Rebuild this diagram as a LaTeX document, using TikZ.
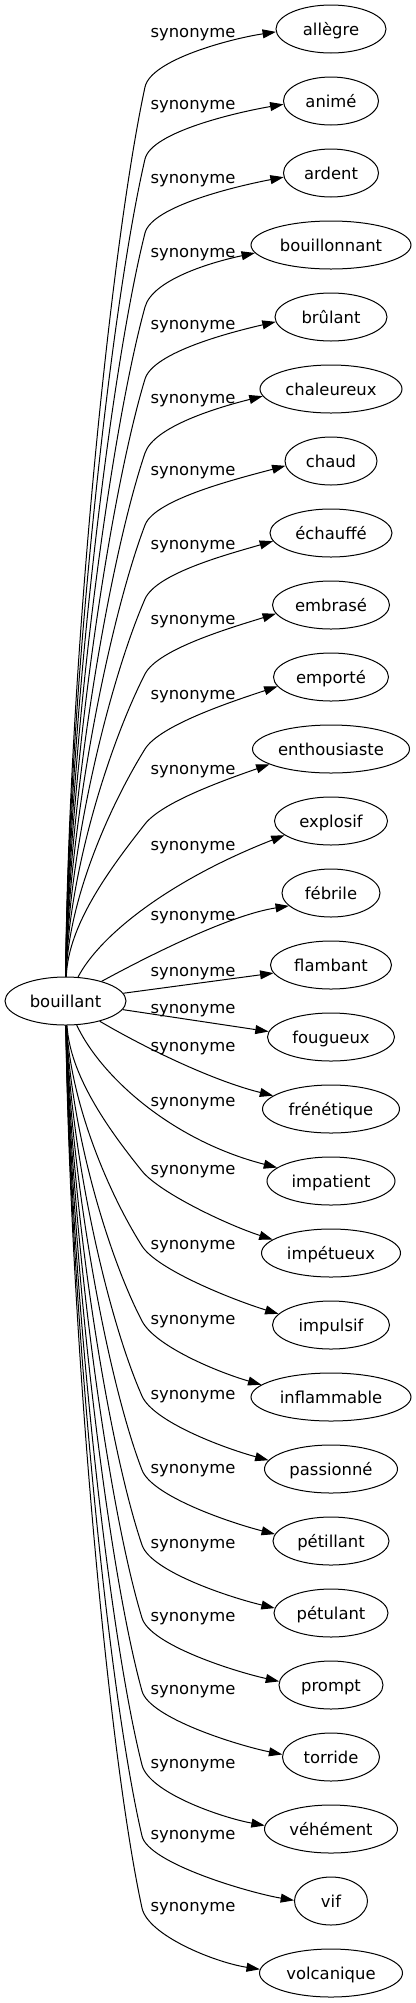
\documentclass[tikz,border=0pt]{standalone}
\usepackage{fontspec}
\setmainfont{DejaVu Sans}
\usetikzlibrary{arrows.meta,calc,shapes.geometric}
\begin{document}
\begin{tikzpicture}[x=0.75pt,y=-0.75pt,
  every node/.style={font=\fontsize{12.3}{14}\selectfont},
  tnode/.style={draw, ellipse, line width=0.75pt, inner sep=0pt, minimum height=36pt, text height=9pt, text depth=0pt},
  lab/.style={inner sep=0pt, text height=9pt, text depth=0pt},
  edge/.style={draw, line width=0.75pt, -{Triangle[length=10pt,width=6.7pt]}}]
\useasboundingbox (0,0) rectangle (416,2003);

\node[tnode, minimum width=90.75pt] (b) at (65.5,1001) {bouillant};

\foreach \i/\w/\txt in {0/110/allègre, 1/95/animé, 2/95/ardent, 3/160/bouillonnant, 4/112/brûlant,
  5/142/chaleureux, 6/92/chaud, 7/122/échauffé, 8/117/embrasé, 9/115/emporté, 10/157/enthousiaste,
  11/113/explosif, 12/98/fébrile, 13/121/flambant, 14/127/fougueux, 15/137/frénétique,
  16/128/impatient, 17/139/impétueux, 18/117/impulsif, 19/160/inflammable, 20/133/passionné,
  21/116/pétillant, 22/114/pétulant, 23/104/prompt, 24/97/torride, 25/133/véhément, 26/73/vif,
  27/143/volcanique}
  \node[tnode, minimum width=\w*0.75pt] (t\i) at (331,29+72*\i) {\txt};

\foreach \i/\L in {0/31, 1/103, 2/177, 3/251, 4/323, 5/397, 6/469, 7/543, 8/618, 9/693, 10/768,
  11/844, 12/914, 13/970, 14/1007, 15/1045, 16/1100, 17/1168, 18/1243, 19/1318, 20/1393,
  21/1467, 22/1542, 23/1615, 24/1688, 25/1762, 26/1833, 27/1905}
  \node[lab] (l\i) at (193,\L) {synonyme};

% upper edges
\foreach \i/\L/\a in {0/31/183.1, 1/103/184.5, 2/177/185, 3/251/186, 4/323/185, 5/397/186.5,
  6/469/186, 7/543/188.4, 8/618/189, 9/693/190.5, 10/768/194} {
  \pgfmathsetmacro\Ky{\L+56}
  \pgfmathsetmacro\D{977-\Ky}
  \pgfmathsetmacro\cay{977-0.34*\D}
  \pgfmathsetmacro\dy{0.16*\D+20}
  \pgfmathsetmacro\cby{\Ky+\dy}
  \pgfmathsetmacro\len{veclen(35,\dy)}
  \pgfmathsetmacro\ccx{145+28*35/\len}
  \pgfmathsetmacro\ccy{\Ky-28*\dy/\len}
  \pgfmathsetmacro\s{(0.15+0.02*\i)*45}
  \draw[edge] (b) .. controls (68,\cay) and (110,\cby) .. (145,\Ky)
    .. controls (\ccx,\ccy) and ($(t\i.\a)+(-45,\s)$) .. (t\i.\a);
}

% middle edges
\draw[edge] (b) .. controls (100,935) and (170,880) .. (t11.197);
\draw[edge] (b) .. controls (150,955) and (230,915) .. (t12.197);
\draw[edge] (b) -- (t13.188.7);
\draw[edge] (b) -- (t14.175.5);
\draw[edge] (b) .. controls (140,1045) and (210,1080) .. (t15.167);
\draw[edge] (b) .. controls (100,1075) and (170,1140) .. (t16.166.4);

% lower edges
\foreach \i/\L/\a in {17/1168/167, 18/1243/168.5, 19/1318/170.5, 20/1393/172, 21/1467/173.5,
  22/1542/175, 23/1615/176.5, 24/1688/177.5, 25/1762/177, 26/1833/179.5, 27/1905/177.6} {
  \pgfmathsetmacro\Ky{\L+3}
  \pgfmathsetmacro\D{\Ky-1025}
  \pgfmathsetmacro\cay{1025+0.34*\D}
  \pgfmathsetmacro\dy{0.16*\D+20}
  \pgfmathsetmacro\cby{\Ky-\dy}
  \pgfmathsetmacro\len{veclen(35,\dy)}
  \pgfmathsetmacro\ccx{142+28*35/\len}
  \pgfmathsetmacro\ccy{\Ky+28*\dy/\len}
  \pgfmathsetmacro\s{(0.34-0.017*(\i-16))*45}
  \draw[edge] (b) .. controls (70,\cay) and (107,\cby) .. (142,\Ky)
    .. controls (\ccx,\ccy) and ($(t\i.\a)+(-45,-\s)$) .. (t\i.\a);
}
\end{tikzpicture}
\end{document}
